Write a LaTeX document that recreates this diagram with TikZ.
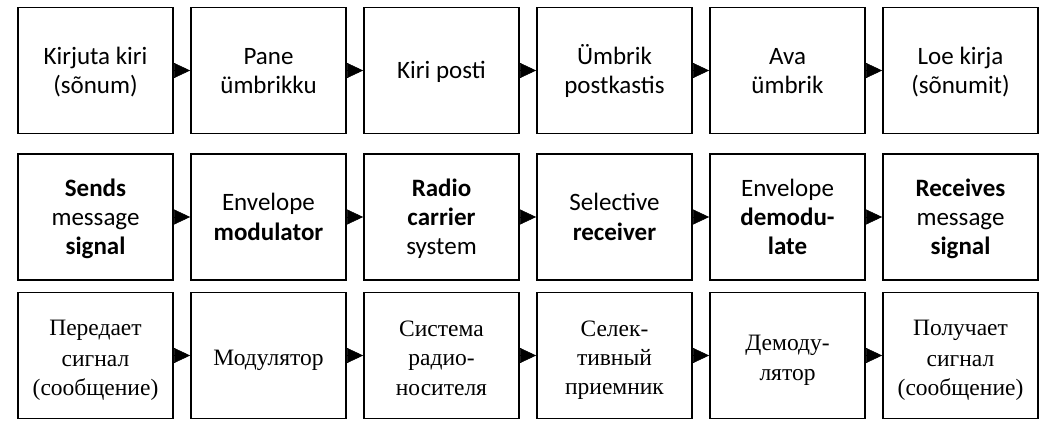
\documentclass[tikz,border=0pt]{standalone}
\usepackage{fontspec}
\usepackage{array}
\setmainfont{Carlito}
\newfontfamily\rus{Liberation Serif}
\usetikzlibrary{arrows.meta}

\newcommand{\lns}[1]{\begin{tabular}{@{}c@{}}#1\end{tabular}}

\tikzset{
  blk/.style={draw,line width=1.8pt,minimum width=155pt,minimum height=126pt,
    inner sep=0pt,font=\fontsize{25}{20.83}\selectfont,
    execute at begin node={\setlength\extrarowheight{8.67pt}}},
  rblk/.style={blk,font=\rus\fontsize{23.5}{13.33}\selectfont,
    execute at begin node={\setlength\extrarowheight{15.67pt}}},
  arr/.style={line width=0.5pt,-{Triangle[length=16pt,width=15pt]}}
}

\begin{document}
\begin{tikzpicture}[x=1pt,y=1pt]
\useasboundingbox (0,0) rectangle (1045,-422);

% row 1
\node[blk] (k1) at (95.5,-70.5) {\lns{Kirjuta kiri\\(sõnum)}};
\node[blk] (k2) at (268.5,-70.5) {\lns{Pane\\ümbrikku}};
\node[blk] (k3) at (441.5,-70.5) {\lns{Kiri posti}};
\node[blk] (k4) at (614.5,-70.5) {\lns{Ümbrik\\postkastis}};
\node[blk] (k5) at (787.5,-70.5) {\lns{Ava\\ümbrik}};
\node[blk] (k6) at (960.5,-70.5) {\lns{Loe kirja\\(sõnumit)}};

% row 2
\node[blk] (s1) at (95.5,-217) {\lns{\textbf{Sends}\\message\\\textbf{signal}}};
\node[blk] (s2) at (268.5,-217) {\lns{Envelope\\\textbf{modulator}}};
\node[blk] (s3) at (441.5,-217) {\lns{\textbf{Radio}\\\textbf{carrier}\\system}};
\node[blk] (s4) at (614.5,-217) {\lns{Selective\\\textbf{receiver}}};
\node[blk] (s5) at (787.5,-217) {\lns{Envelope\\\textbf{demodu-}\\\textbf{late}}};
\node[blk] (s6) at (960.5,-217) {\lns{\textbf{Receives}\\message\\\textbf{signal}}};

% row 3
\node[rblk] (c1) at (95.5,-355.5) {\lns{Передает\\сигнал\\(сообщение)}};
\node[rblk] (c2) at (268.5,-355.5) {\lns{Модулятор}};
\node[rblk] (c3) at (441.5,-355.5) {\lns{Система\\радио-\\носителя}};
\node[rblk] (c4) at (614.5,-355.5) {\lns{Селек-\\тивный\\приемник}};
\node[rblk] (c5) at (787.5,-355.5) {\lns{Демоду-\\лятор}};
\node[rblk] (c6) at (960.5,-355.5) {\lns{Получает\\сигнал\\(сообщение)}};

\draw[arr] (k1) -- (k2);
\draw[arr] (k2) -- (k3);
\draw[arr] (k3) -- (k4);
\draw[arr] (k4) -- (k5);
\draw[arr] (k5) -- (k6);

\draw[arr] (s1) -- (s2);
\draw[arr] (s2) -- (s3);
\draw[arr] (s3) -- (s4);
\draw[arr] (s4) -- (s5);
\draw[arr] (s5) -- (s6);

\draw[arr] (c1) -- (c2);
\draw[arr] (c2) -- (c3);
\draw[arr] (c3) -- (c4);
\draw[arr] (c4) -- (c5);
\draw[arr] (c5) -- (c6);
\end{tikzpicture}
\end{document}
